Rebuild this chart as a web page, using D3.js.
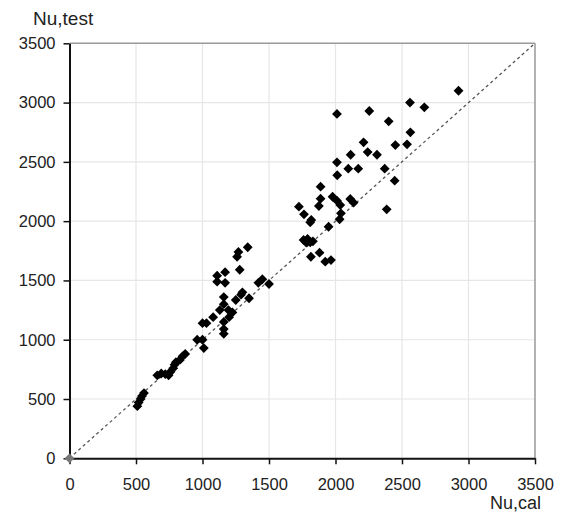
<!DOCTYPE html>
<html>
<head>
<meta charset="utf-8">
<script src="https://cdn.jsdelivr.net/npm/d3@7"></script>
<style>
  html, body { margin: 0; padding: 0; background: #fff; }
  svg { display: block; font-family: "Liberation Sans", Arial, sans-serif; }
</style>
</head>
<body>
<svg id="chart" width="562" height="515"></svg>
<script>
// Calculated vs. tested ultimate load
const nuCal = [
  510, 520, 535, 545, 560, 660, 690, 720, 745, 760, 780, 790, 800, 830, 850, 870,
  960, 1000, 1000, 1030, 1010, 1080, 1130, 1160, 1160, 1160, 1160, 1160, 1195, 1225,
  1250, 1300, 1350, 1110, 1110, 1170, 1170, 1280, 1260, 1270, 1340, 1420, 1450, 1500,
  1200, 1290,
  2925, 2560, 2668, 2011, 2254, 2400, 2563, 2211, 2450, 2538, 2242, 2312, 2114, 2011,
  2096, 2171, 2370, 2013, 2445, 1888, 1888, 1875, 1978, 2011, 2036, 2111, 2136, 2041,
  2031, 2385, 1725, 1763, 1818, 1810, 1948, 1760, 1810, 1780, 1830, 1815, 1880, 1923,
  1966, 1790
];
const nuTest = [
  440, 470, 500, 525, 550, 700, 715, 710, 700, 730, 760, 790, 810, 830, 860, 880,
  1000, 1140, 1000, 1140, 930, 1190, 1250, 1050, 1090, 1150, 1300, 1360, 1250, 1230,
  1335, 1400, 1350, 1490, 1540, 1480, 1570, 1590, 1700, 1740, 1780, 1480, 1510, 1470,
  1190, 1380,
  3100, 3000, 2960, 2904, 2929, 2842, 2749, 2665, 2642, 2648, 2583, 2560, 2560, 2496,
  2443, 2443, 2443, 2387, 2341, 2291, 2190, 2128, 2206, 2173, 2136, 2187, 2156, 2066,
  2016, 2100, 2122, 2058, 2010, 1990, 1953, 1841, 1822, 1820, 1830, 1700, 1734, 1658,
  1672, 1850
];
const ticks = [0, 500, 1000, 1500, 2000, 2500, 3000, 3500];
const xLabel = "Nu,cal";
const yLabel = "Nu,test";

const svg = d3.select("#chart");
const x = d3.scaleLinear().domain([0, 3500]).range([69.5, 535]);
const y = d3.scaleLinear().domain([0, 3500]).range([458.3, 43.3]);

// grid
const grid = svg.append("g");
grid.selectAll(".gv").data(ticks.slice(1, -1)).enter().append("line")
  .attr("x1", d => x(d)).attr("x2", d => x(d))
  .attr("y1", y(0)).attr("y2", y(3500))
  .attr("stroke", "#e6e6e6").attr("stroke-width", 1.2);
grid.selectAll(".gh").data(ticks.slice(1, -1)).enter().append("line")
  .attr("x1", x(0)).attr("x2", x(3500))
  .attr("y1", d => y(d)).attr("y2", d => y(d))
  .attr("stroke", "#e6e6e6").attr("stroke-width", 1.2);

// top and right frame
svg.append("line").attr("x1", x(0)).attr("x2", x(3500)).attr("y1", y(3500)).attr("y2", y(3500))
  .attr("stroke", "#999").attr("stroke-width", 1.5);
svg.append("line").attr("x1", x(3500)).attr("x2", x(3500)).attr("y1", y(0)).attr("y2", y(3500))
  .attr("stroke", "#999").attr("stroke-width", 1.5);

// 1:1 line
svg.append("line")
  .attr("x1", x(0)).attr("y1", y(0)).attr("x2", x(3500)).attr("y2", y(3500))
  .attr("stroke", "#555").attr("stroke-width", 1.3).attr("stroke-dasharray", "3,3");

// axes
const xAxis = svg.append("g").attr("transform", `translate(0,${y(0)})`)
  .call(d3.axisBottom(x).tickValues(ticks).tickSize(6).tickSizeOuter(0).tickFormat(d3.format("d")));
const yAxis = svg.append("g").attr("transform", `translate(${x(0)},0)`)
  .call(d3.axisLeft(y).tickValues(ticks).tickSize(6).tickSizeOuter(0).tickFormat(d3.format("d")));
[xAxis, yAxis].forEach(a => {
  a.select(".domain").attr("stroke", "#111").attr("stroke-width", 2);
  a.selectAll(".tick line").attr("stroke", "#111").attr("stroke-width", 1.5);
  a.selectAll(".tick text").attr("fill", "#222").attr("font-size", 16.5)
    .attr("font-family", "Liberation Sans, Arial, sans-serif");
});
xAxis.selectAll(".tick text").attr("y", 20).attr("dy", "0.71em");
yAxis.selectAll(".tick text").attr("x", -14);

// origin marker
svg.append("path")
  .attr("d", d3.symbol(d3.symbolSquare, 48)())
  .attr("transform", `translate(${x(0)},${y(0)}) rotate(45)`)
  .attr("fill", "#777");

// data points
const pts = nuCal.map((v, i) => [v, nuTest[i]]);
svg.append("g").selectAll("path").data(pts).enter().append("path")
  .attr("d", d3.symbol(d3.symbolSquare, 48)())
  .attr("transform", d => `translate(${x(d[0])},${y(d[1])}) rotate(45)`)
  .attr("fill", "#000");

// axis titles
svg.append("text").attr("x", 33).attr("y", 25).attr("font-size", 19).attr("fill", "#222")
  .text(yLabel);
svg.append("text").attr("x", 541).attr("y", 509).attr("text-anchor", "end")
  .attr("font-size", 18).attr("fill", "#222").text(xLabel);
</script>
</body>
</html>
